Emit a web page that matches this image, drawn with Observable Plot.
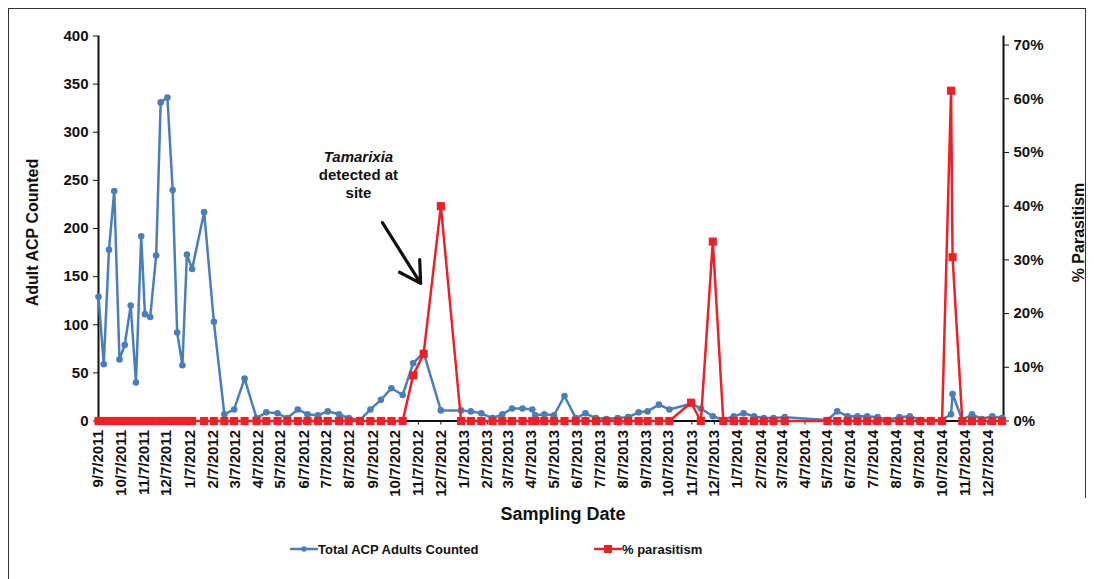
<!DOCTYPE html>
<html>
<head>
<meta charset="utf-8">
<script src="https://cdn.jsdelivr.net/npm/d3@7"></script>
<script src="https://cdn.jsdelivr.net/npm/@observablehq/plot@0.6"></script>
<style>
  body { margin: 0; background: #fff; font-family: "Liberation Sans", Arial, sans-serif; }
  #page { position: relative; width: 1094px; height: 579px; overflow: hidden; }
  #borderL { position: absolute; left: 8px; top: 8px; width: 1px; height: 571px; background: #333; }
  #borderT { position: absolute; left: 8px; top: 8px; width: 1078px; height: 1px; background: #333; }
  #borderR { position: absolute; left: 1085px; top: 8px; width: 1px; height: 490px; background: #333; }
  #chart { position: absolute; left: 0; top: 0; }
  #legend { position: absolute; left: 0; top: 530px; width: 1094px; height: 40px; font-weight: bold; font-size: 13px; color: #111; }
  .item { position: absolute; top: 10px; height: 18px; display: flex; align-items: center; }
</style>
</head>
<body>
<div id="page">
  <div id="borderL"></div><div id="borderT"></div><div id="borderR"></div>
  <div id="chart"></div>
  <div id="legend"></div>
</div>
<script>
// ---- data ----
const sampleDates = [
  "2011-09-07","2011-09-14","2011-09-21","2011-09-28","2011-10-05","2011-10-12","2011-10-20","2011-10-27",
  "2011-11-03","2011-11-08","2011-11-15","2011-11-23","2011-11-29","2011-12-08","2011-12-15","2011-12-21",
  "2011-12-28","2012-01-03","2012-01-10","2012-01-26","2012-02-08","2012-02-22","2012-03-06","2012-03-20",
  "2012-04-05","2012-04-18","2012-05-03","2012-05-16","2012-05-30","2012-06-12","2012-06-26","2012-07-09",
  "2012-07-24","2012-08-06","2012-08-21","2012-09-04","2012-09-18","2012-10-02","2012-10-17","2012-10-31",
  "2012-11-14","2012-12-07","2013-01-03","2013-01-16","2013-01-30","2013-02-14","2013-02-27","2013-03-12",
  "2013-03-26","2013-04-08","2013-04-12","2013-04-24","2013-05-07","2013-05-21","2013-06-05","2013-06-18",
  "2013-07-02","2013-07-16","2013-07-31","2013-08-14","2013-08-28","2013-09-09","2013-09-24","2013-10-08",
  "2013-11-06","2013-11-19","2013-12-05","2013-12-19","2014-01-02","2014-01-15","2014-01-29","2014-02-11",
  "2014-02-24","2014-03-11","2014-05-07","2014-05-20","2014-06-03","2014-06-16","2014-06-29","2014-07-13",
  "2014-07-26","2014-08-11","2014-08-25","2014-09-08","2014-09-22","2014-10-07","2014-10-19","2014-10-21",
  "2014-11-03","2014-11-16","2014-11-29","2014-12-13","2014-12-26"
];
const adultsCounted = [
  129, 59, 178, 239, 64, 79, 120, 40,
  192, 111, 108, 172, 331, 336, 240, 92,
  58, 173, 158, 217, 103, 7, 12, 44,
  3, 9, 8, 3, 12, 7, 6, 10,
  7, 3, 1, 12, 22, 34, 27, 60,
  71, 11, 11, 10, 8, 3, 7, 13,
  13, 12, 6, 7, 6, 26, 3, 8,
  3, 2, 3, 4, 9, 10, 17, 12,
  18, 13, 5, 1, 5, 8, 5, 3,
  3, 4, 1, 10, 5, 5, 5, 4,
  1, 4, 5, 1, 1, 1, 7, 28,
  1, 7, 2, 5, 3
];
const parasitism = [
  0, 0, 0, 0, 0, 0, 0, 0,
  0, 0, 0, 0, 0, 0, 0, 0,
  0, 0, 0, 0, 0, 0, 0, 0,
  0, 0, 0, 0, 0, 0, 0, 0,
  0, 0, 0, 0, 0, 0, 0, 0.085,
  0.125, 0.40, 0, 0, 0, 0, 0, 0,
  0, 0, 0, 0, 0, 0, 0, 0,
  0, 0, 0, 0, 0, 0, 0, 0,
  0.034, 0, 0.334, 0, 0, 0, 0, 0,
  0, 0, 0, 0, 0, 0, 0, 0,
  0, 0, 0, 0, 0, 0, 0.615, 0.305,
  0, 0, 0, 0, 0
];
const xTickLabels = [
  "9/7/2011","10/7/2011","11/7/2011","12/7/2011",
  "1/7/2012","2/7/2012","3/7/2012","4/7/2012","5/7/2012","6/7/2012","7/7/2012","8/7/2012","9/7/2012","10/7/2012","11/7/2012","12/7/2012",
  "1/7/2013","2/7/2013","3/7/2013","4/7/2013","5/7/2013","6/7/2013","7/7/2013","8/7/2013","9/7/2013","10/7/2013","11/7/2013","12/7/2013",
  "1/7/2014","2/7/2014","3/7/2014","4/7/2014","5/7/2014","6/7/2014","7/7/2014","8/7/2014","9/7/2014","10/7/2014","11/7/2014","12/7/2014"
];
const leftTicks = [0, 50, 100, 150, 200, 250, 300, 350, 400];
const rightTicks = [0, 0.1, 0.2, 0.3, 0.4, 0.5, 0.6, 0.7];
const xDomain = ["2011-09-07", "2014-12-28"];
const annotationLines = ["Tamarixia", "detected at", "site"];
const annotationDate = "2012-08-19";
const annotationValues = [274, 255, 237];
const arrowFrom = {date: "2012-09-20", value: 206};
const arrowTo = {date: "2012-11-10", value: 143};
const legendLabels = ["Total ACP Adults Counted", "% parasitism"];

// ---- build ----
const blue = "#4a7ebb", red = "#ee2026";
const toDate = s => new Date(s + "T00:00:00Z");
const parseTick = s => { const [m, d, y] = s.split("/").map(Number); return new Date(Date.UTC(y, m - 1, d)); };
const fmt = d => `${d.getUTCMonth() + 1}/${d.getUTCDate()}/${d.getUTCFullYear()}`;
const rows = sampleDates.map((s, i) => ({date: toDate(s), adults: adultsCounted[i], pct: parasitism[i]}));
const topPct = 0.7 * 400 / 390.6;           // secondary-axis value at the top of the frame
const toLeft = p => p / topPct * 400;
const ticksX = xTickLabels.map(parseTick);
const x0 = toDate(xDomain[0]), x1 = toDate(xDomain[1]);

const chart = Plot.plot({
  width: 1094, height: 530,
  marginLeft: 98, marginRight: 91, marginTop: 35.5, marginBottom: 109.5,
  style: {fontFamily: "'Liberation Sans', Arial, sans-serif", fontWeight: "bold", fontSize: "15px", color: "#111", background: "transparent", overflow: "visible"},
  x: {type: "utc", domain: [x0, x1]},
  y: {domain: [0, 400]},
  marks: [
    Plot.axisY(leftTicks, {anchor: "left", tickSize: 5, tickPadding: 5, label: null, stroke: "#111"}),
    Plot.axisY(rightTicks.map(toLeft), {anchor: "right", tickSize: 5, tickPadding: 5, label: null, stroke: "#111",
      tickFormat: v => Math.round(v / 400 * topPct * 100) + "%"}),
    Plot.axisX(ticksX, {anchor: "bottom", tickRotate: -90, tickSize: 4, tickPadding: 5, label: null, stroke: "#111", tickFormat: fmt}),
    Plot.ruleX([x0, x1], {stroke: "#111", strokeWidth: 2}),
    Plot.ruleY([0], {stroke: "#111", strokeWidth: 2}),
    Plot.line(rows, {x: "date", y: "adults", stroke: blue, strokeWidth: 2.5}),
    Plot.dot(rows, {x: "date", y: "adults", fill: blue, r: 3.3}),
    Plot.line(rows, {x: "date", y: d => toLeft(d.pct), stroke: red, strokeWidth: 2.5}),
    Plot.dot(rows, {x: "date", y: d => toLeft(d.pct), fill: red, symbol: "square", r: 4.6}),
    Plot.text([annotationLines[0]], {x: () => toDate(annotationDate), y: () => annotationValues[0], text: d => d, fontStyle: "italic", fontSize: 15}),
    Plot.text(annotationLines.slice(1), {x: () => toDate(annotationDate), y: (d, i) => annotationValues[i + 1], text: d => d, fontSize: 15}),
    Plot.arrow([arrowFrom], {x1: d => toDate(d.date), y1: d => d.value, x2: () => toDate(arrowTo.date), y2: () => arrowTo.value,
      stroke: "#111", strokeWidth: 3.2, headLength: 14, bend: 0}),
    Plot.text(["Adult ACP Counted"], {frameAnchor: "left", textAnchor: "middle", dx: -66, dy: 4, rotate: -90, fontSize: 16}),
    Plot.text(["% Parasitism"], {frameAnchor: "right", textAnchor: "middle", dx: 75, dy: 4, rotate: -90, fontSize: 16}),
    Plot.text(["Sampling Date"], {frameAnchor: "bottom", dy: 99, dx: 12, fontSize: 18})
  ]
});
document.getElementById("chart").appendChild(chart);

// ---- legend ----
const legend = document.getElementById("legend");
const items = [
  {label: legendLabels[0], color: blue, left: 290, marker: `<circle cx="14" cy="6" r="2.8" fill="${blue}"/>`},
  {label: legendLabels[1], color: red, left: 594, marker: `<rect x="10" y="2" width="8" height="8" fill="${red}"/>`}
];
for (const it of items) {
  const div = document.createElement("div");
  div.className = "item";
  div.style.left = it.left + "px";
  div.innerHTML = `<svg width="28" height="12"><line x1="0" y1="6" x2="28" y2="6" stroke="${it.color}" stroke-width="2.5"/>${it.marker}</svg><span>${it.label}</span>`;
  legend.appendChild(div);
}
</script>
</body>
</html>
